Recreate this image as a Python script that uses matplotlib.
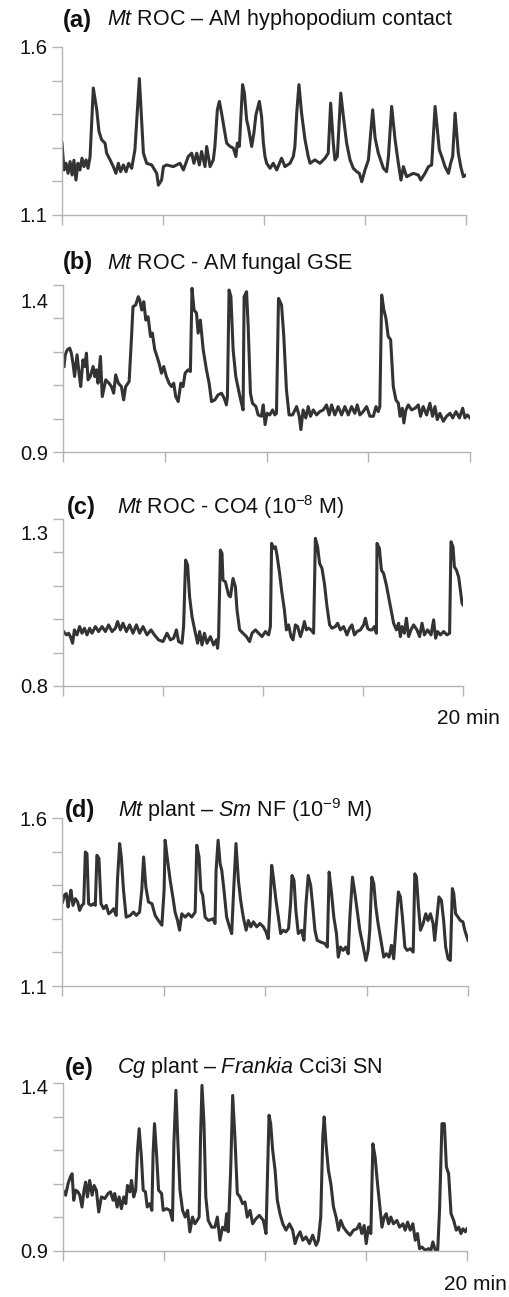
import numpy as np
import matplotlib
matplotlib.use("Agg")
import matplotlib.pyplot as plt
from matplotlib.transforms import ScaledTranslation

plt.rcParams['font.family'] = ['Liberation Sans', 'DejaVu Sans']
plt.rcParams['mathtext.fontset'] = 'custom'
plt.rcParams['mathtext.rm'] = 'Liberation Sans'
plt.rcParams['mathtext.it'] = 'Liberation Sans:italic'
plt.rcParams['mathtext.bf'] = 'Liberation Sans:bold'

# ---- data: time (min) and fluorescence ratio ----
t_a = [0, 0.10, 0.20, 0.30, 0.40, 0.50, 0.59, 0.69, 0.79, 0.89, 0.99, 1.09, 1.19, 1.29, 1.39, 1.55, 1.72, 1.83,
       1.96, 2.13, 2.21, 2.38, 2.54, 2.67, 2.79, 2.90, 3.04, 3.17, 3.30, 3.45, 3.61, 3.83, 4.03, 4.19, 4.44, 4.69,
       4.77, 4.93, 5.02, 5.18, 5.51, 5.84, 6.01, 6.25, 6.42, 6.53, 6.67, 6.80, 6.91, 7.08, 7.16, 7.33, 7.49, 7.57,
       7.69, 7.79, 7.90, 8.15, 8.32, 8.48, 8.61, 8.68, 8.78, 8.94, 9.03, 9.14, 9.22, 9.39, 9.50, 9.60, 9.77, 9.88,
       9.97, 10.05, 10.13, 10.30, 10.46, 10.63, 10.87, 11.04, 11.29, 11.45, 11.53, 11.62, 11.73, 11.86, 12.03,
       12.19, 12.28, 12.52, 12.77, 13.02, 13.18, 13.30, 13.43, 13.51, 13.63, 13.80, 13.93, 14.09, 14.26, 14.42,
       14.59, 14.72, 14.84, 15.00, 15.17, 15.38, 15.50, 15.66, 15.91, 16.07, 16.16, 16.32, 16.49, 16.65, 16.78,
       16.90, 17.06, 17.39, 17.64, 17.76, 17.97, 18.14, 18.30, 18.47, 18.68, 18.80, 18.96, 19.13, 19.24, 19.34,
       19.46, 19.62, 19.74, 19.87, 20.00]
v_a = [1.314, 1.234, 1.254, 1.224, 1.259, 1.219, 1.263, 1.204, 1.254, 1.234, 1.269, 1.244, 1.264, 1.239, 1.274,
       1.478, 1.413, 1.349, 1.324, 1.314, 1.284, 1.264, 1.244, 1.224, 1.254, 1.229, 1.249, 1.229, 1.254, 1.239,
       1.294, 1.506, 1.284, 1.254, 1.249, 1.224, 1.189, 1.204, 1.244, 1.249, 1.244, 1.254, 1.234, 1.274, 1.284,
       1.254, 1.284, 1.249, 1.289, 1.244, 1.304, 1.244, 1.264, 1.304, 1.413, 1.438, 1.403, 1.314, 1.304, 1.299,
       1.274, 1.314, 1.304, 1.488, 1.463, 1.383, 1.363, 1.304, 1.344, 1.398, 1.438, 1.393, 1.314, 1.274, 1.254,
       1.239, 1.254, 1.234, 1.269, 1.244, 1.254, 1.274, 1.304, 1.403, 1.488, 1.403, 1.324, 1.274, 1.254, 1.264,
       1.254, 1.269, 1.284, 1.433, 1.314, 1.264, 1.274, 1.463, 1.393, 1.314, 1.264, 1.239, 1.229, 1.224, 1.199,
       1.234, 1.264, 1.413, 1.329, 1.284, 1.239, 1.229, 1.274, 1.423, 1.324, 1.254, 1.204, 1.244, 1.214, 1.224,
       1.219, 1.204, 1.224, 1.244, 1.249, 1.423, 1.294, 1.274, 1.244, 1.224, 1.254, 1.274, 1.403, 1.284, 1.244,
       1.214, 1.219]

t_b = [0.05, 0.11, 0.21, 0.33, 0.41, 0.49, 0.57, 0.69, 0.79, 0.87, 0.98, 1.07, 1.15, 1.23, 1.34, 1.48, 1.56,
       1.64, 1.72, 1.84, 1.93, 2.10, 2.26, 2.38, 2.49, 2.59, 2.72, 2.87, 2.98, 3.08, 3.25, 3.36, 3.44, 3.57, 3.70,
       3.77, 3.87, 3.97, 4.07, 4.18, 4.30, 4.39, 4.51, 4.62, 4.72, 4.84, 4.95, 5.08, 5.21, 5.33, 5.44, 5.54, 5.66,
       5.79, 5.90, 6.00, 6.15, 6.26, 6.34, 6.44, 6.56, 6.64, 6.75, 6.89, 7.05, 7.18, 7.30, 7.46, 7.62, 7.79, 7.92,
       8.03, 8.08, 8.16, 8.25, 8.36, 8.49, 8.66, 8.77, 8.85, 8.90, 9.02, 9.10, 9.21, 9.31, 9.48, 9.59, 9.75, 9.84,
       9.93, 10.03, 10.16, 10.30, 10.41, 10.49, 10.59, 10.74, 10.85, 10.98, 11.11, 11.28, 11.48, 11.61, 11.69,
       11.80, 11.93, 12.05, 12.16, 12.30, 12.46, 12.62, 12.79, 12.95, 13.08, 13.20, 13.36, 13.52, 13.69, 13.85,
       14.02, 14.18, 14.34, 14.46, 14.59, 14.75, 14.92, 15.08, 15.25, 15.38, 15.49, 15.57, 15.66, 15.77, 15.87,
       15.98, 16.10, 16.23, 16.36, 16.48, 16.56, 16.67, 16.75, 16.85, 16.97, 17.13, 17.30, 17.46, 17.57, 17.70,
       17.87, 18.03, 18.16, 18.28, 18.39, 18.52, 18.69, 18.85, 19.02, 19.15, 19.31, 19.48, 19.64, 19.75, 19.87,
       20.00]
v_b = [1.156, 1.191, 1.206, 1.211, 1.196, 1.166, 1.126, 1.191, 1.136, 1.096, 1.176, 1.156, 1.196, 1.116, 1.126,
       1.156, 1.126, 1.146, 1.106, 1.186, 1.066, 1.116, 1.106, 1.096, 1.076, 1.131, 1.106, 1.096, 1.056, 1.096,
       1.111, 1.236, 1.335, 1.340, 1.365, 1.355, 1.325, 1.350, 1.295, 1.305, 1.246, 1.256, 1.206, 1.186, 1.166,
       1.136, 1.156, 1.126, 1.106, 1.096, 1.106, 1.066, 1.051, 1.106, 1.096, 1.136, 1.146, 1.141, 1.390, 1.325,
       1.316, 1.256, 1.295, 1.206, 1.146, 1.106, 1.051, 1.056, 1.071, 1.076, 1.061, 1.041, 1.066, 1.385, 1.366,
       1.206, 1.126, 1.076, 1.046, 1.026, 1.365, 1.380, 1.276, 1.076, 1.046, 1.036, 1.011, 1.007, 1.041, 0.982,
       1.016, 1.011, 1.026, 1.011, 1.016, 1.360, 1.340, 1.246, 1.086, 1.011, 1.011, 1.036, 1.007, 0.967, 1.026,
       1.002, 1.036, 1.007, 1.026, 1.011, 1.021, 1.026, 1.041, 1.011, 1.041, 1.011, 1.036, 1.011, 1.036, 1.011,
       1.036, 1.016, 1.041, 1.011, 1.021, 1.036, 1.007, 1.007, 1.036, 1.021, 1.036, 1.370, 1.325, 1.300, 1.246,
       1.236, 1.096, 1.056, 1.046, 1.007, 1.031, 0.987, 1.026, 1.041, 1.026, 1.031, 1.041, 1.007, 1.036, 1.011,
       1.046, 1.007, 1.036, 0.997, 1.016, 0.992, 1.007, 1.016, 1.002, 1.021, 1.002, 1.031, 1.002, 1.011, 1.002]

t_c = [0.03, 0.17, 0.28, 0.37, 0.48, 0.57, 0.70, 0.83, 0.95, 1.07, 1.20, 1.33, 1.45, 1.62, 1.78, 1.95, 2.12,
       2.28, 2.45, 2.62, 2.73, 2.87, 3.00, 3.17, 3.33, 3.50, 3.67, 3.83, 4.00, 4.20, 4.40, 4.57, 4.78, 5.00, 5.20,
       5.37, 5.53, 5.67, 5.78, 5.95, 6.03, 6.13, 6.23, 6.33, 6.45, 6.62, 6.73, 6.83, 6.95, 7.07, 7.20, 7.37, 7.53,
       7.67, 7.73, 7.78, 7.87, 7.95, 8.00, 8.12, 8.28, 8.37, 8.50, 8.62, 8.70, 8.83, 9.00, 9.17, 9.33, 9.45, 9.62,
       9.78, 9.95, 10.12, 10.28, 10.37, 10.43, 10.53, 10.62, 10.70, 10.83, 10.95, 11.07, 11.17, 11.28, 11.40,
       11.50, 11.62, 11.73, 11.87, 11.95, 12.07, 12.17, 12.28, 12.40, 12.53, 12.62, 12.73, 12.83, 12.95, 13.07,
       13.20, 13.33, 13.45, 13.62, 13.73, 13.87, 14.03, 14.20, 14.33, 14.45, 14.57, 14.70, 14.87, 15.03, 15.12,
       15.23, 15.33, 15.45, 15.57, 15.67, 15.70, 15.82, 15.92, 16.03, 16.17, 16.28, 16.40, 16.53, 16.67, 16.78,
       16.87, 16.95, 17.07, 17.17, 17.28, 17.40, 17.53, 17.70, 17.83, 17.95, 18.07, 18.23, 18.40, 18.53, 18.63,
       18.73, 18.87, 19.03, 19.20, 19.33, 19.40, 19.50, 19.57, 19.67, 19.78, 19.87, 19.95, 20.00]
v_c = [0.963, 0.953, 0.958, 0.948, 0.928, 0.968, 0.953, 0.978, 0.958, 0.973, 0.953, 0.973, 0.958, 0.978, 0.963,
       0.978, 0.963, 0.983, 0.963, 0.973, 0.993, 0.968, 0.988, 0.963, 0.983, 0.958, 0.983, 0.958, 0.978, 0.953,
       0.968, 0.953, 0.938, 0.933, 0.958, 0.938, 0.943, 0.968, 0.933, 0.928, 0.978, 1.177, 1.162, 1.067, 1.008,
       0.958, 0.928, 0.963, 0.923, 0.958, 0.928, 0.948, 0.923, 0.938, 0.913, 0.948, 1.207, 1.197, 1.117, 1.112,
       1.072, 1.067, 1.122, 1.097, 1.028, 0.968, 0.958, 0.948, 0.933, 0.958, 0.968, 0.958, 0.948, 0.963, 0.953,
       0.978, 1.227, 1.212, 1.217, 1.192, 1.137, 1.077, 1.028, 0.968, 0.983, 0.948, 0.938, 0.983, 0.978, 0.948,
       0.963, 0.993, 0.968, 0.973, 0.968, 0.958, 1.242, 1.217, 1.167, 1.152, 1.107, 1.038, 0.983, 0.973, 0.978,
       0.988, 0.968, 0.978, 0.953, 0.973, 0.983, 0.953, 0.963, 0.968, 0.983, 1.003, 0.973, 0.968, 0.968, 0.978,
       0.958, 1.227, 1.212, 1.147, 1.137, 1.102, 1.067, 1.028, 0.988, 0.968, 0.988, 0.948, 0.978, 0.958, 1.003,
       0.948, 0.968, 0.983, 0.968, 0.948, 0.988, 0.953, 0.968, 0.953, 0.998, 0.943, 0.963, 0.953, 0.963, 0.953,
       0.958, 1.232, 1.217, 1.157, 1.147, 1.127, 1.087, 1.048, 1.043]

t_d = [0.03, 0.11, 0.21, 0.30, 0.38, 0.44, 0.54, 0.66, 0.77, 0.87, 0.98, 1.07, 1.15, 1.23, 1.31, 1.43, 1.56,
       1.64, 1.72, 1.82, 1.92, 2.05, 2.18, 2.30, 2.41, 2.54, 2.67, 2.74, 2.84, 2.92, 3.03, 3.16, 3.36, 3.52, 3.66,
       3.82, 3.93, 4.02, 4.13, 4.26, 4.43, 4.59, 4.75, 4.92, 5.03, 5.08, 5.20, 5.33, 5.46, 5.57, 5.69, 5.79, 5.90,
       6.07, 6.23, 6.39, 6.56, 6.64, 6.75, 6.84, 6.93, 7.05, 7.21, 7.43, 7.54, 7.59, 7.69, 7.79, 7.87, 7.98, 8.11,
       8.25, 8.36, 8.44, 8.57, 8.69, 8.80, 8.93, 9.07, 9.18, 9.30, 9.43, 9.59, 9.75, 9.92, 10.05, 10.16, 10.25,
       10.33, 10.41, 10.54, 10.66, 10.77, 10.90, 11.03, 11.16, 11.26, 11.33, 11.43, 11.52, 11.64, 11.80, 11.92,
       12.02, 12.13, 12.25, 12.34, 12.46, 12.57, 12.74, 12.95, 13.07, 13.16, 13.28, 13.39, 13.52, 13.61, 13.72,
       13.85, 13.98, 14.10, 14.18, 14.31, 14.43, 14.54, 14.67, 14.84, 14.97, 15.08, 15.16, 15.26, 15.36, 15.46,
       15.57, 15.74, 15.85, 15.98, 16.11, 16.23, 16.34, 16.48, 16.57, 16.67, 16.77, 16.89, 17.00, 17.16, 17.30,
       17.38, 17.46, 17.56, 17.66, 17.79, 17.92, 18.03, 18.15, 18.28, 18.36, 18.44, 18.57, 18.69, 18.80, 18.90,
       19.02, 19.13, 19.23, 19.30, 19.39, 19.51, 19.62, 19.75, 19.84, 20.00]
v_d = [1.350, 1.370, 1.375, 1.335, 1.365, 1.385, 1.340, 1.360, 1.350, 1.325, 1.340, 1.345, 1.499, 1.494, 1.345,
       1.340, 1.345, 1.340, 1.489, 1.479, 1.345, 1.330, 1.340, 1.315, 1.320, 1.330, 1.310, 1.424, 1.524, 1.484,
       1.385, 1.305, 1.310, 1.320, 1.310, 1.320, 1.385, 1.484, 1.395, 1.350, 1.345, 1.310, 1.295, 1.281, 1.385,
       1.534, 1.474, 1.414, 1.365, 1.320, 1.295, 1.266, 1.315, 1.305, 1.315, 1.305, 1.320, 1.519, 1.484, 1.385,
       1.370, 1.305, 1.295, 1.300, 1.286, 1.444, 1.534, 1.464, 1.444, 1.385, 1.305, 1.276, 1.256, 1.365, 1.524,
       1.414, 1.355, 1.305, 1.266, 1.295, 1.276, 1.291, 1.276, 1.286, 1.276, 1.261, 1.241, 1.345, 1.459, 1.424,
       1.355, 1.305, 1.256, 1.266, 1.261, 1.271, 1.345, 1.429, 1.414, 1.325, 1.256, 1.266, 1.236, 1.345, 1.429,
       1.399, 1.345, 1.266, 1.236, 1.231, 1.226, 1.216, 1.439, 1.375, 1.305, 1.256, 1.186, 1.216, 1.206, 1.216,
       1.196, 1.305, 1.424, 1.375, 1.325, 1.266, 1.216, 1.176, 1.206, 1.266, 1.424, 1.404, 1.335, 1.286, 1.226,
       1.186, 1.196, 1.186, 1.221, 1.181, 1.305, 1.380, 1.365, 1.305, 1.216, 1.206, 1.211, 1.201, 1.434, 1.424,
       1.335, 1.266, 1.286, 1.315, 1.295, 1.315, 1.286, 1.236, 1.286, 1.365, 1.355, 1.295, 1.216, 1.181, 1.176,
       1.390, 1.375, 1.315, 1.305, 1.295, 1.291, 1.266, 1.236]

t_e = [0.05, 0.13, 0.25, 0.36, 0.45, 0.53, 0.63, 0.74, 0.83, 0.94, 1.04, 1.12, 1.21, 1.32, 1.44, 1.54, 1.65,
       1.77, 1.90, 2.07, 2.23, 2.35, 2.48, 2.56, 2.68, 2.78, 2.89, 3.01, 3.11, 3.19, 3.31, 3.39, 3.50, 3.60, 3.69,
       3.77, 3.88, 3.97, 4.08, 4.17, 4.30, 4.40, 4.46, 4.53, 4.63, 4.73, 4.88, 4.96, 5.12, 5.29, 5.42, 5.49, 5.59,
       5.69, 5.79, 5.92, 6.05, 6.17, 6.28, 6.41, 6.53, 6.64, 6.74, 6.81, 6.88, 6.98, 7.07, 7.19, 7.36, 7.52, 7.64,
       7.77, 7.90, 8.02, 8.10, 8.18, 8.30, 8.40, 8.51, 8.63, 8.76, 8.89, 9.01, 9.12, 9.26, 9.39, 9.55, 9.72, 9.92,
       10.05, 10.12, 10.20, 10.28, 10.38, 10.50, 10.61, 10.74, 10.88, 11.04, 11.21, 11.37, 11.49, 11.60, 11.74,
       11.87, 12.03, 12.20, 12.36, 12.53, 12.64, 12.76, 12.86, 12.93, 13.02, 13.14, 13.26, 13.39, 13.52, 13.64,
       13.75, 13.88, 14.05, 14.21, 14.38, 14.55, 14.68, 14.79, 14.91, 15.01, 15.12, 15.24, 15.34, 15.45, 15.57,
       15.67, 15.79, 15.90, 16.00, 16.12, 16.23, 16.36, 16.53, 16.66, 16.83, 16.94, 17.06, 17.19, 17.32, 17.44,
       17.55, 17.65, 17.77, 17.93, 18.10, 18.21, 18.31, 18.43, 18.55, 18.64, 18.76, 18.88, 18.98, 19.09, 19.21,
       19.34, 19.47, 19.59, 19.70, 19.80, 19.92, 20.00]
v_e = [1.076, 1.066, 1.100, 1.120, 1.130, 1.051, 1.081, 1.076, 1.066, 1.031, 1.081, 1.105, 1.061, 1.110, 1.066,
       1.095, 1.081, 1.016, 1.061, 1.056, 1.071, 1.076, 1.051, 1.071, 1.031, 1.061, 1.026, 1.061, 1.041, 1.095,
       1.076, 1.110, 1.061, 1.081, 1.200, 1.264, 1.180, 1.081, 1.076, 1.031, 1.041, 1.021, 1.190, 1.279, 1.190,
       1.081, 1.071, 1.021, 1.026, 1.021, 0.991, 1.219, 1.378, 1.219, 1.081, 1.021, 1.001, 1.021, 0.957, 1.001,
       0.981, 0.991, 1.001, 1.239, 1.393, 1.279, 1.061, 0.991, 0.971, 0.971, 1.001, 0.932, 0.971, 0.962, 1.011,
       0.957, 1.140, 1.363, 1.239, 1.071, 1.061, 1.041, 1.046, 1.001, 1.021, 0.981, 0.996, 1.006, 0.991, 0.952,
       1.120, 1.304, 1.279, 1.200, 1.140, 1.051, 1.011, 0.981, 0.962, 0.981, 0.962, 0.922, 0.942, 0.957, 0.932,
       0.942, 0.922, 0.947, 0.917, 0.932, 1.001, 1.239, 1.299, 1.219, 1.140, 1.100, 1.031, 1.001, 0.962, 0.991,
       0.971, 0.957, 0.947, 0.962, 0.966, 0.981, 0.952, 0.976, 0.922, 0.971, 0.952, 1.219, 1.180, 1.100, 1.041,
       0.971, 1.001, 1.011, 0.981, 1.001, 0.981, 0.991, 0.971, 0.981, 0.962, 0.986, 0.962, 0.981, 0.932, 0.952,
       0.907, 0.912, 0.902, 0.907, 0.902, 0.927, 0.902, 0.902, 1.021, 1.279, 1.279, 1.150, 1.130, 1.011, 0.991,
       0.962, 0.971, 0.952, 0.966, 0.957, 0.966]

panel_tags = ["(a)", "(b)", "(c)", "(d)", "(e)"]
titles = [r"$\mathit{Mt}$ ROC – AM hyphopodium contact",
          r"$\mathit{Mt}$ ROC - AM fungal GSE",
          r"$\mathit{Mt}$ ROC - CO4 (10$^{-8}$ M)",
          r"$\mathit{Mt}$ plant – $\mathit{Sm}$ NF (10$^{-9}$ M)",
          r"$\mathit{Cg}$ plant – $\mathit{Frankia}$ Cci3i SN"]
y_ranges = [(1.1, 1.6), (0.9, 1.4), (0.8, 1.3), (1.1, 1.6), (0.9, 1.4)]
y_labels = [("1.1", "1.6"), ("0.9", "1.4"), ("0.8", "1.3"), ("1.1", "1.6"), ("0.9", "1.4")]
x_ticks = [0, 5, 10, 15, 20]

traces = [(t_a, v_a), (t_b, v_b), (t_c, v_c), (t_d, v_d), (t_e, v_e)]

# ---- layout in pixels: axes box (x0, x1, ytop, ybottom), tag x, title x, title y, top-label shift ----
W, H = 509, 1297
boxes = [(62, 466, 47, 215), (63, 470, 285, 452), (63, 463, 519, 686),
         (62, 468, 818, 986), (63, 467, 1083, 1251)]
tag_x = [63, 63, 67, 65, 65]
title_x = [107, 107, 117, 118, 117]
title_y = [20, 263, 507, 810, 1068]
top_shift = [0, 15, 14, 0, 3]

fig = plt.figure(figsize=(W / 100, H / 100), dpi=100)
line_color = '#333333'
axis_color = '#b3b3b3'

for i in range(5):
    x0, x1, y0, y1 = boxes[i]
    ax = fig.add_axes([x0 / W, 1 - y1 / H, (x1 - x0) / W, (y1 - y0) / H])
    t, v = traces[i]
    ax.plot(t, v, color=line_color, lw=2.2, solid_joinstyle='round')
    lo, hi = y_ranges[i]
    ax.set_xlim(0, 20)
    ax.set_ylim(lo, hi)
    ax.set_yticks(np.linspace(lo, hi, 6))
    ax.set_yticklabels([y_labels[i][0], '', '', '', '', y_labels[i][1]])
    ax.set_xticks(x_ticks)
    ax.set_xticklabels([])
    for s in ['top', 'right']:
        ax.spines[s].set_visible(False)
    for s in ['left', 'bottom']:
        ax.spines[s].set_color(axis_color)
        ax.spines[s].set_linewidth(1.0)
    ax.tick_params(axis='both', direction='out', length=7.5, width=1.0, color=axis_color,
                   labelsize=14.5, labelcolor='#111111')
    ax.tick_params(axis='y', pad=3)
    if top_shift[i]:
        lab = ax.get_yticklabels()[-1]
        lab.set_transform(lab.get_transform() +
                          ScaledTranslation(0, -top_shift[i] / 100, fig.dpi_scale_trans))
    yy = 1 - title_y[i] / H
    fig.text(tag_x[i] / W, yy, panel_tags[i], fontsize=17, fontweight='bold',
             ha='left', va='center', color='#111111')
    fig.text(title_x[i] / W, yy, titles[i], fontsize=15.5, ha='left', va='center', color='#111111')

fig.text(500 / W, 1 - 718 / H, "20 min", fontsize=15, ha='right', va='center', color='#111111')
fig.text(507 / W, 1 - 1285 / H, "20 min", fontsize=15, ha='right', va='center', color='#111111')

fig.savefig('out.png', dpi=100)
